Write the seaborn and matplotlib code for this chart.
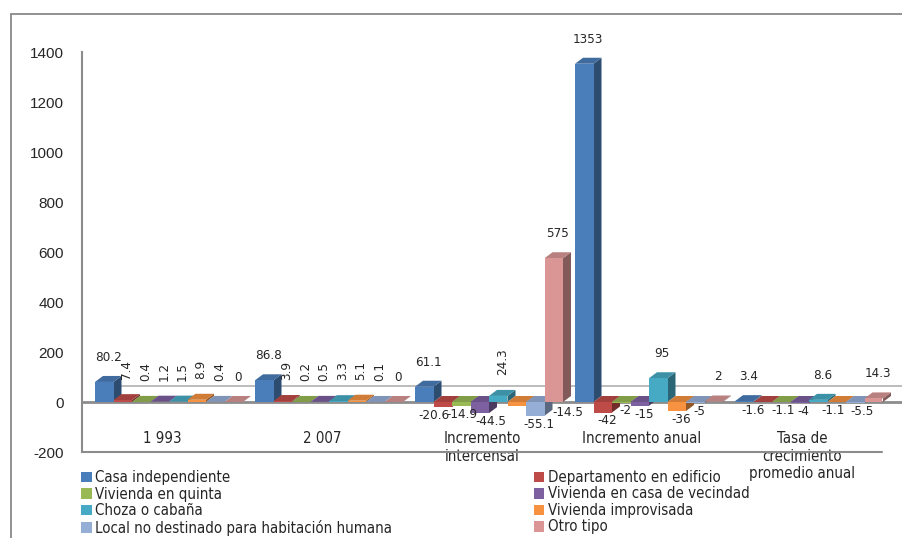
import matplotlib
matplotlib.use("Agg")
import numpy as np
import pandas as pd
import matplotlib.pyplot as plt
import matplotlib.transforms as mtransforms
from matplotlib.patches import Polygon, Rectangle, Patch
from matplotlib import colors as mcolors
import seaborn as sns

# --- data -----------------------------------------------------------------
categories = ["1 993", "2 007", "Incremento\nintercensal", "Incremento anual",
              "Tasa de\ncrecimiento\npromedio anual"]
series = ["Casa independiente", "Departamento en edificio", "Vivienda en quinta",
          "Vivienda en casa de vecindad", "Choza o cabaña", "Vivienda improvisada",
          "Local no destinado para habitación humana", "Otro tipo"]

casa_independiente = [80.2, 86.8, 61.1, 1353, 3.4]
departamento_edificio = [7.4, 3.9, -20.6, -42, -1.6]
vivienda_quinta = [0.4, 0.2, -14.9, -2, -1.1]
casa_vecindad = [1.2, 0.5, -44.5, -15, -4]
choza_cabana = [1.5, 3.3, 24.3, 95, 8.6]
vivienda_improvisada = [8.9, 5.1, -14.5, -36, -1.1]
local_no_destinado = [0.4, 0.1, -55.1, -5, -5.5]
otro_tipo = [0, 0, 575, 2, 14.3]

y_ticks = [-200, 0, 200, 400, 600, 800, 1000, 1200, 1400]

values = [casa_independiente, departamento_edificio, vivienda_quinta, casa_vecindad,
          choza_cabana, vivienda_improvisada, local_no_destinado, otro_tipo]

colors = ["#4A7EBB", "#BE4B48", "#98B954", "#7D60A0",
          "#46AAC5", "#F69240", "#95AED6", "#D99694"]

df = pd.DataFrame(
    [(cat, s, v) for s, vals in zip(series, values) for cat, v in zip(categories, vals)],
    columns=["categoria", "serie", "valor"],
)

# labels written vertically (group index, series index)
vertical_labels = {(0, 1), (0, 2), (0, 3), (0, 4), (0, 5), (0, 6),
                   (1, 1), (1, 2), (1, 3), (1, 4), (1, 5), (1, 6),
                   (2, 4)}
# extra pixel offsets for labels that would collide
label_nudge = {(2, 1): (-13, 0), (2, 2): (-3, 0), (2, 3): (7, 0), (2, 5): (47, 2),
               (4, 1): (-14, 0), (4, 2): (-2, 0), (4, 5): (-8, 0), (4, 6): (3, 0)}

# --- figure -----------------------------------------------------------------
W, H, DPI = 903, 538, 100
sns.set_style("white")
plt.rcParams["font.family"] = ["DejaVu Sans"]
label_font = dict(family="DejaVu Sans", stretch="condensed")
grey = "#8C8C8C"
LABEL_SIZE = 9.6

fig = plt.figure(figsize=(W / DPI, H / DPI), dpi=DPI)
ax = fig.add_axes([82 / W, 1 - 452 / H, 800 / W, 400 / H])

sns.barplot(data=df, x="categoria", y="valor", hue="serie", order=categories,
            hue_order=series, palette=colors, saturation=1, width=0.925, gap=0,
            errorbar=None, legend=False, ax=ax, linewidth=0)

ax.set_xlim(-0.5, 4.5)
ax.set_ylim(-200, 1400)
ax.set_xlabel("")
ax.set_ylabel("")

# bars sit slightly right of the category centre (perspective of the 3-D floor)
shift = 7 / 160
for cont in ax.containers:
    for bar in cont:
        bar.set_x(bar.get_x() + shift)

# --- pseudo 3-D faces -------------------------------------------------------
DX, DY = 8, 6
ident = mtransforms.IdentityTransform()


def shade(c, f):
    r, g, b, a = mcolors.to_rgba(c)
    return (r * f, g * f, b * f, a)


all_bars = [b for cont in ax.containers for b in cont]
for k, bar in enumerate(sorted(all_bars, key=lambda b: b.get_x())):
    x0, w = bar.get_x(), bar.get_width()
    y0, h = bar.get_y(), bar.get_height()
    (px0, pyb), (px1, pyt) = ax.transData.transform(
        [(x0, min(y0, y0 + h)), (x0 + w, max(y0, y0 + h))])
    base = bar.get_facecolor()
    z = 2 + k * 0.01
    top = Polygon([(px0, pyt), (px1, pyt), (px1 + DX, pyt + DY), (px0 + DX, pyt + DY)],
                  closed=True, transform=ident, facecolor=shade(base, 0.85),
                  edgecolor="none", zorder=z, clip_on=False)
    side = Polygon([(px1, pyb), (px1 + DX, pyb + DY), (px1 + DX, pyt + DY), (px1, pyt)],
                   closed=True, transform=ident, facecolor=shade(base, 0.6),
                   edgecolor="none", zorder=z, clip_on=False)
    ax.add_artist(side)
    ax.add_artist(top)
    bar.set_zorder(z + 0.005)

# --- data labels --------------------------------------------------------------
for si, cont in enumerate(ax.containers):
    for gi, bar in enumerate(cont):
        v = values[si][gi]
        cx = bar.get_x() + bar.get_width() / 2
        txt = f"{v:g}"
        nx, ny = label_nudge.get((gi, si), (0, 0))
        common = dict(textcoords="offset pixels", fontsize=LABEL_SIZE, zorder=10,
                      annotation_clip=False, ha="center", **label_font)
        if (gi, si) in vertical_labels:
            ax.annotate(txt, (cx, v), xytext=(DX / 2 + nx, 21 + ny), rotation=90,
                        va="bottom", **common)
        elif v >= 0:
            ax.annotate(txt, (cx, v), xytext=(DX / 2 + nx, 18 + ny), va="bottom", **common)
        else:
            ax.annotate(txt, (cx, v), xytext=(DX / 2 + nx, -2 + ny), va="top", **common)

# --- axes styling -------------------------------------------------------------
for s in ["top", "right"]:
    ax.spines[s].set_visible(False)
ax.spines["left"].set_color(grey)
ax.spines["left"].set_linewidth(1.5)
ax.spines["bottom"].set_position(("data", 0))
ax.spines["bottom"].set_color(grey)
ax.spines["bottom"].set_linewidth(2.0)
ax.spines["bottom"].set_zorder(1.5)

ax.set_yticks(y_ticks)
ax.set_yticklabels([str(t) for t in y_ticks], family="Liberation Sans", fontsize=11)
ax.tick_params(axis="y", direction="out", length=4, width=1, color=grey, pad=9)

ax.set_xticks(range(len(categories)))
ax.set_xticklabels(categories, fontsize=10.8, **label_font)
ax.set_xticks(np.arange(-0.5, len(categories)), minor=True)
ax.tick_params(axis="x", which="major", length=0, pad=21)
ax.tick_params(axis="x", which="minor", direction="out", length=4, width=1, color=grey)

# floor lines
ax.axhline(-200, color=grey, lw=1.5, clip_on=False, zorder=1)
ax.plot([1.0, 1.03], [0, 0], transform=ax.get_yaxis_transform(), color=grey, lw=2.0,
        clip_on=False, zorder=1.5)
back = ax.get_yaxis_transform() + mtransforms.ScaledTranslation(0, 16 / DPI, fig.dpi_scale_trans)
ax.plot([0.02, 1.03], [0, 0], transform=back, color="#B0B0B0", lw=1.2,
        clip_on=False, zorder=1)

# chart border
fig.patches.append(Rectangle((11 / W, -0.05), 1.2, 1 - 14 / H + 0.05, transform=fig.transFigure,
                             fill=False, edgecolor="#898989", lw=1.3))

# --- legend -----------------------------------------------------------------
handles = [Patch(facecolor=c, edgecolor="none") for c in colors]
leg_kw = dict(loc="upper left", frameon=False, borderaxespad=0, borderpad=0,
              handlelength=0.7, handleheight=0.7, handletextpad=0.25,
              labelspacing=0.1, prop=dict(size=10.8, **label_font))
fig.legend(handles[0::2], series[0::2], bbox_to_anchor=(81 / W, 1 - 470 / H), **leg_kw)
fig.legend(handles[1::2], series[1::2], bbox_to_anchor=(534 / W, 1 - 470 / H), **leg_kw)

fig.savefig("out.png", dpi=DPI)
